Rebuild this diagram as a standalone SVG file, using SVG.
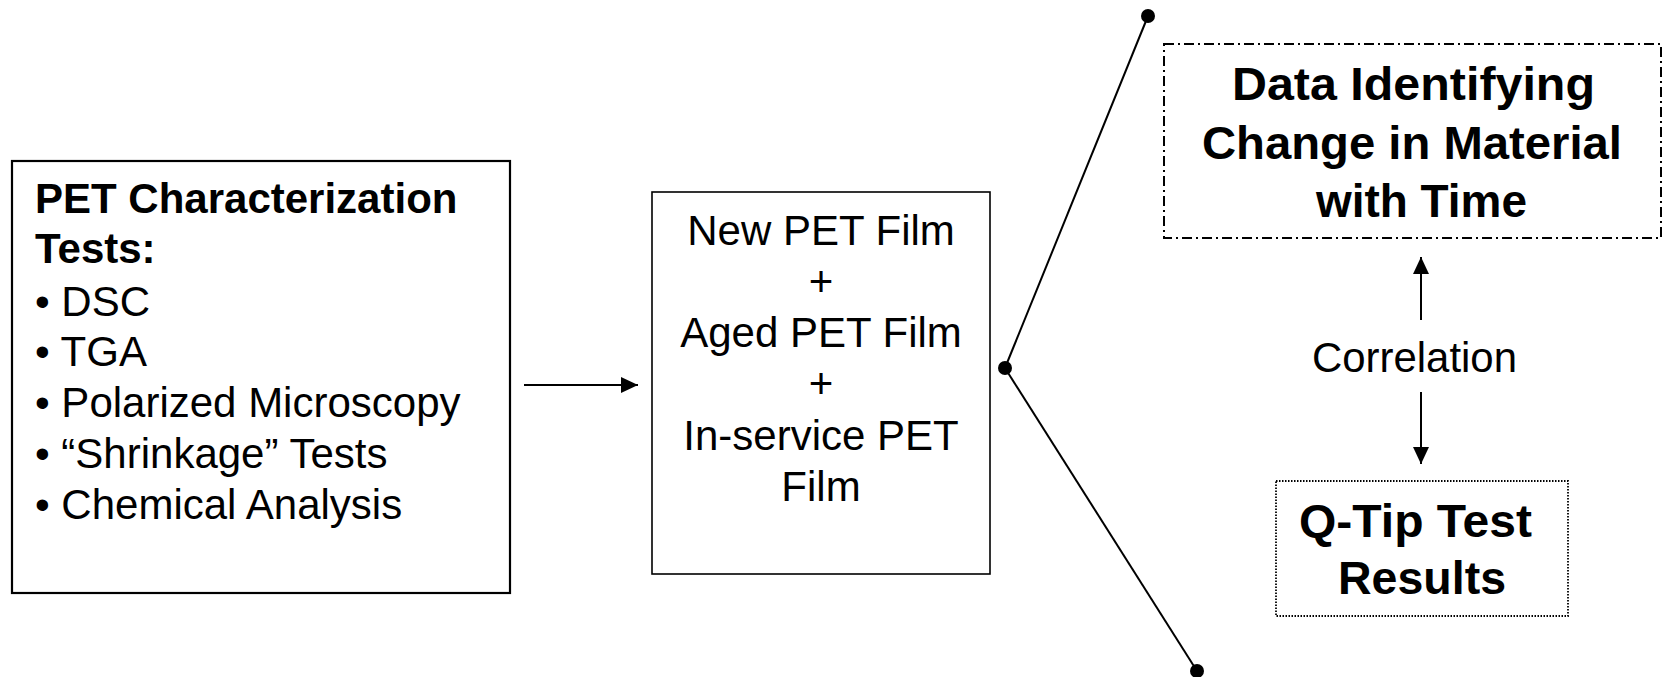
<svg xmlns="http://www.w3.org/2000/svg" width="1665" height="677" viewBox="0 0 1665 677">
<style>
.t{font-family:"Liberation Sans",Arial,sans-serif;font-size:42px;fill:#000}
.b{font-weight:bold}
.c{text-anchor:middle}
.big{font-size:47px}
.ln{stroke:#000;stroke-width:2;fill:none}
.dot{fill:#000}
</style>
<defs>
<marker id="ah" markerUnits="userSpaceOnUse" markerWidth="17" markerHeight="16" refX="17" refY="8" orient="auto">
<path d="M0,0 L17,8 L0,16 z" fill="#000"/>
</marker>
</defs>
<rect width="1665" height="677" fill="#fff"/>
<g id="tests">
<rect x="12" y="161" width="498" height="432" fill="#fff" stroke="#000" stroke-width="2.2"/>
<text class="t b" x="35" y="213">PET Characterization</text>
<text class="t b" x="35" y="263">Tests:</text>
<text class="t" x="35" y="316">• DSC</text>
<text class="t" x="35" y="366">• TGA</text>
<text class="t" x="35" y="417">• Polarized Microscopy</text>
<text class="t" x="35" y="468">• “Shrinkage” Tests</text>
<text class="t" x="35" y="519">• Chemical Analysis</text>
</g>
<g id="films">
<rect x="652" y="192" width="338" height="382" fill="#fff" stroke="#000" stroke-width="1.6"/>
<text class="t c" x="821" y="245">New PET Film</text>
<text class="t c" x="821" y="296">+</text>
<text class="t c" x="821" y="347">Aged PET Film</text>
<text class="t c" x="821" y="398">+</text>
<text class="t c" x="821" y="450">In-service PET</text>
<text class="t c" x="821" y="501">Film</text>
</g>
<g id="data">
<rect x="1164" y="44" width="497" height="194" fill="none" stroke="#000" stroke-width="2" stroke-dasharray="10 4 2 4"/>
<text class="t b big" x="1232" y="100" textLength="363" lengthAdjust="spacingAndGlyphs">Data Identifying</text>
<text class="t b big" x="1202" y="159" textLength="420" lengthAdjust="spacingAndGlyphs">Change in Material</text>
<text class="t b big" x="1316" y="217" textLength="211" lengthAdjust="spacingAndGlyphs">with Time</text>
</g>
<g id="qtip">
<rect x="1276" y="481" width="292" height="135" fill="none" stroke="#000" stroke-width="1.8" stroke-dasharray="1.5 1.5"/>
<text class="t b" style="font-size:46px" x="1299" y="537" textLength="233" lengthAdjust="spacingAndGlyphs">Q-Tip Test</text>
<text class="t b" style="font-size:46px" x="1338" y="594" textLength="168" lengthAdjust="spacingAndGlyphs">Results</text>
</g>
<g id="correlation">
<text class="t" x="1312" y="372" textLength="205" lengthAdjust="spacingAndGlyphs">Correlation</text>
</g>
<g id="connectors">
<line class="ln" x1="524" y1="385" x2="638" y2="385" marker-end="url(#ah)"/>
<line class="ln" x1="1005" y1="368" x2="1148" y2="16"/>
<line class="ln" x1="1005" y1="368" x2="1197" y2="671"/>
<circle class="dot" cx="1005" cy="368" r="7"/>
<circle class="dot" cx="1148" cy="16" r="7"/>
<circle class="dot" cx="1197" cy="671" r="7"/>
<line class="ln" x1="1421" y1="320" x2="1421" y2="257" marker-end="url(#ah)"/>
<line class="ln" x1="1421" y1="392" x2="1421" y2="464" marker-end="url(#ah)"/>
</g>
</svg>
